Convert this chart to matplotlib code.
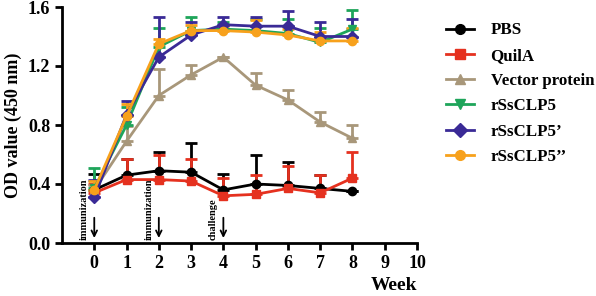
import numpy as np
import matplotlib
matplotlib.use("Agg")
import matplotlib.pyplot as plt
from matplotlib.lines import Line2D

plt.rcParams['font.family'] = ['Liberation Serif', 'DejaVu Serif']
plt.rcParams['font.weight'] = 'bold'

weeks = [0, 1, 2, 3, 4, 5, 6, 7, 8]

pbs = [0.36, 0.46, 0.49, 0.48, 0.36, 0.40, 0.39, 0.37, 0.35]
pbs_err = [0.11, 0.11, 0.13, 0.20, 0.11, 0.20, 0.16, 0.09, 0.0]

quila = [0.34, 0.43, 0.43, 0.42, 0.32, 0.33, 0.37, 0.34, 0.44]
quila_err = [0.06, 0.14, 0.17, 0.15, 0.12, 0.13, 0.15, 0.12, 0.18]

vector = [0.36, 0.69, 1.00, 1.14, 1.26, 1.07, 0.97, 0.82, 0.71]
vector_err = [0.03, 0.10, 0.18, 0.07, 0.0, 0.08, 0.07, 0.07, 0.09]

clp5 = [0.37, 0.80, 1.33, 1.44, 1.45, 1.44, 1.42, 1.36, 1.45]
clp5_err = [0.14, 0.12, 0.13, 0.09, 0.05, 0.08, 0.10, 0.10, 0.13]

clp5a = [0.31, 0.87, 1.26, 1.41, 1.48, 1.47, 1.47, 1.40, 1.40]
clp5a_err = [0.12, 0.09, 0.27, 0.09, 0.05, 0.06, 0.10, 0.10, 0.12]

clp5b = [0.36, 0.86, 1.35, 1.44, 1.44, 1.43, 1.41, 1.37, 1.37]
clp5b_err = [0.06, 0.08, 0.03, 0.04, 0.03, 0.08, 0.04, 0.06, 0.09]

names = ['PBS', 'QuilA', 'Vector protein', 'rSsCLP5', 'rSsCLP5\u2019', 'rSsCLP5\u2019\u2019']
series = [pbs, quila, vector, clp5, clp5a, clp5b]
errors = [pbs_err, quila_err, vector_err, clp5_err, clp5a_err, clp5b_err]
colors = ['black', '#e5311f', '#a8977a', '#1ea55a', '#3a2a96', '#f7a11c']
markers = ['o', 's', '^', 'v', 'D', 'o']

events = [(0, 'immunization'), (2, 'immunization'), (4, 'challenge')]

fig = plt.figure(figsize=(5.96, 2.96), dpi=100)
ax = fig.add_axes([62 / 596, 53 / 296, 355 / 596, 236 / 296])

handles = []
for y, e, c, m, n in zip(series, errors, colors, markers, names):
    low = np.zeros(len(e))
    ax.errorbar(weeks, y, yerr=[low, e], color=c, marker=m, markersize=6,
                linewidth=2, elinewidth=2, capsize=4, capthick=2)
    handles.append(Line2D([], [], color=c, marker=m, markersize=7, linewidth=2, label=n))

for wk, txt in events:
    ax.annotate('', xy=(wk, 0.015), xytext=(wk, 0.19),
                arrowprops=dict(arrowstyle='->', color='black', lw=1.3))
    ax.text(wk - 0.17, 0.02, txt, rotation=90, fontsize=7.5, ha='right', va='bottom')

ax.set_xlim(-1, 10)
ax.set_ylim(0, 1.6)
ax.set_xticks(range(0, 11))
ax.set_yticks([0.0, 0.4, 0.8, 1.2, 1.6])
ax.set_yticklabels(['0.0', '0.4', '0.8', '1.2', '1.6'])
ax.tick_params(labelsize=13, width=2, length=5)
for s in ['top', 'right']:
    ax.spines[s].set_visible(False)
for s in ['left', 'bottom']:
    ax.spines[s].set_linewidth(2)

ax.set_ylabel('OD value (450 nm)', fontsize=13, fontweight='bold')
ax.set_xlabel('Week', fontsize=14, fontweight='bold', loc='right')

ax.legend(handles=handles, loc='upper left', bbox_to_anchor=(438 / 596, 1 - 14 / 296),
          bbox_transform=fig.transFigure, frameon=False, fontsize=12.2,
          handlelength=1.6, handletextpad=1.0, labelspacing=0.55, borderpad=0)

fig.savefig('out.png', dpi=100)
